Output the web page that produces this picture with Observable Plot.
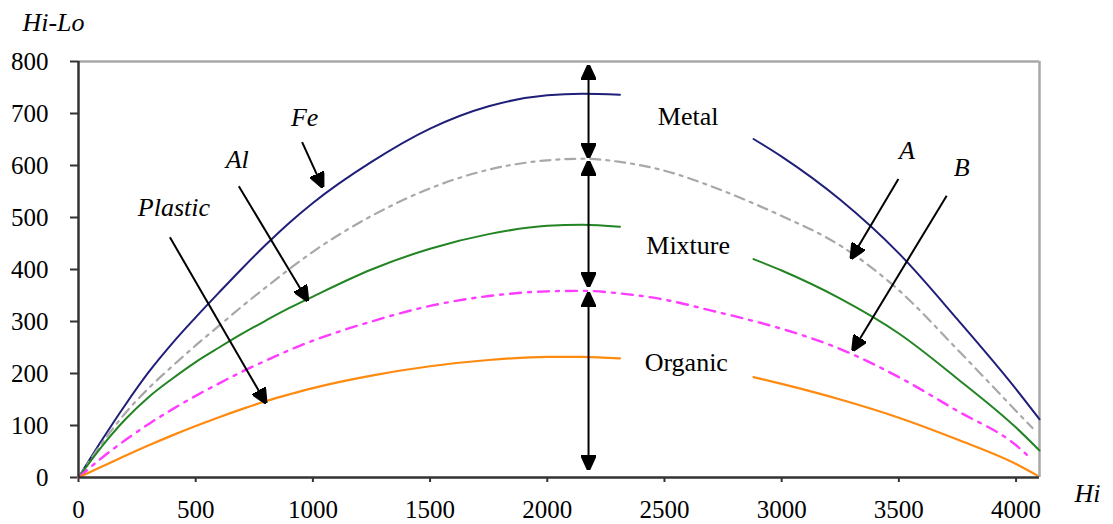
<!DOCTYPE html>
<html><head><meta charset="utf-8">
<script src="https://cdn.jsdelivr.net/npm/d3@7"></script>
<script src="https://cdn.jsdelivr.net/npm/@observablehq/plot@0.6"></script>
<style>body{margin:0;background:#fff} svg{display:block}</style>
</head><body><div id="chart"></div>
<script>
// Hi values (x) shared by all curves; null = gap in the solid curves
const hi      = [0, 100, 200, 300, 400, 500, 600, 700, 800, 900, 1000, 1250, 1500, 1750, 2000, 2150, 2310, 2500, 2700, 2880, 3000, 3250, 3500, 3750, 4000];
const fe      = [0, 72, 140, 203, 258, 308, 356, 403, 448, 490, 528, 607, 671, 714, 735, 738, 736, null, null, 651, 617, 534, 431, 304, 170];
const seriesA = [0, 66, 124, 172, 214, 254, 292, 330, 366, 401, 434, 503, 556, 592, 610, 613, 607, 590, 560, 527, 503, 446, 360, 246, 128];
const al      = [0, 60, 112, 155, 190, 222, 250, 277, 302, 326, 348, 400, 440, 468, 484, 486, 482, null, null, 420, 398, 344, 277, 190, 96];
const seriesB = [0, 38, 72, 103, 131, 157, 181, 204, 225, 245, 263, 300, 330, 349, 358, 359, 354, 342, 321, 301, 286, 247, 193, 128, 62];
const plastic = [0, 21, 42, 62, 81, 99, 116, 132, 147, 160, 172, 196, 214, 226, 232, 232, 229, null, null, 193, 180, 150, 115, 73, 26];
// last point of each curve [Hi, Hi-Lo]
const feEnd = [4100, 112];
const aEnd = [4070, 95];
const alEnd = [4100, 52];
const bEnd = [4060, 38];
const plasticEnd = [4090, 4];

const xTicks = [0, 500, 1000, 1500, 2000, 2500, 3000, 3500, 4000];
const yTicks = [0, 100, 200, 300, 400, 500, 600, 700, 800];

// annotations (data units)
const arrowNames = ["Fe", "Al", "Plastic", "A", "B"];
const arrowFrom  = [[954, 645], [684, 560], [390, 462], [3498, 574], [3704, 542]];
const arrowTo    = [[1040, 560], [975, 342], [797, 145], [3299, 423], [3306, 246]];
const nameAt     = [[965, 692], [677, 612], [407, 519], [3534, 628], [3768, 596]];
const zoneNames  = ["Metal", "Mixture", "Organic"];
const zoneAt     = [[2601, 694], [2601, 446], [2593, 221]];
const spanHi     = 2176;
const spans      = [[790, 617], [606, 369], [353, 17]];

const SERIF = "Liberation Serif, DejaVu Serif, Tinos, serif";

const curves = [
  {name: "Fe", values: fe, end: feEnd, stroke: "#1f1f7a", dash: null, w: 2},
  {name: "A", values: seriesA, end: aEnd, stroke: "#a8a8a8", dash: "10,6,3,6", w: 2.2},
  {name: "Al", values: al, end: alEnd, stroke: "#238423", dash: null, w: 2},
  {name: "B", values: seriesB, end: bEnd, stroke: "#ff3cff", dash: "11,7,3,7", w: 2.4},
  {name: "Plastic", values: plastic, end: plasticEnd, stroke: "#ff8a10", dash: null, w: 2.2}
];

function rowsFor(c) {
  const r = hi.map((x, i) => ({hi: x, v: c.values[i]}));
  r.push({hi: c.end[0], v: c.end[1]});
  return r;
}

function filledHead(color, context) {
  const doc = (context && context.document) || document;
  const m = doc.createElementNS("http://www.w3.org/2000/svg", "marker");
  m.setAttribute("viewBox", "-5 -5 10 10");
  m.setAttribute("markerWidth", "7.5");
  m.setAttribute("markerHeight", "7.5");
  m.setAttribute("refX", "4");
  m.setAttribute("orient", "auto-start-reverse");
  m.setAttribute("fill", color);
  const p = doc.createElementNS("http://www.w3.org/2000/svg", "path");
  p.setAttribute("d", "M-5,-4.6L5,0L-5,4.6Z");
  m.appendChild(p);
  return m;
}

const arrows = arrowNames.map((n, i) => ({n, x1: arrowFrom[i][0], y1: arrowFrom[i][1], x2: arrowTo[i][0], y2: arrowTo[i][1], lx: nameAt[i][0], ly: nameAt[i][1]}));
const zones = zoneNames.map((n, i) => ({n, x: zoneAt[i][0], y: zoneAt[i][1]}));
const spanRows = spans.map(s => ({x: spanHi, y1: s[0], y2: s[1]}));

function build(head) {
  return Plot.plot({
    width: 1113, height: 524,
    marginLeft: 78, marginTop: 61, marginRight: 74, marginBottom: 47,
    style: {fontFamily: SERIF, fontSize: "25px", color: "#000", background: "#fff"},
    x: {domain: [0, 4100]},
    y: {domain: [0, 800]},
    marks: [
      Plot.axisX({ticks: xTicks, tickFormat: d3.format("d"), tickSize: 5, tickPadding: 18, fontSize: 25, fontFamily: SERIF, label: null, strokeWidth: 2, stroke: "#333"}),
      Plot.axisY({ticks: yTicks, tickFormat: d3.format("d"), tickSize: 8, tickPadding: 22, fontSize: 25, fontFamily: SERIF, label: null, strokeWidth: 2, stroke: "#333"}),
      Plot.ruleY([800], {stroke: "#a8a8a8", strokeWidth: 2.5}),
      Plot.ruleX([4100], {stroke: "#a8a8a8", strokeWidth: 2.5}),
      ...curves.map(c => Plot.line(rowsFor(c), {x: "hi", y: "v", stroke: c.stroke, strokeWidth: c.w, strokeDasharray: c.dash, curve: "monotone-x"})),
      Plot.ruleX([0], {stroke: "#333", strokeWidth: 2.5}),
      Plot.ruleY([0], {stroke: "#333", strokeWidth: 2.5}),
      Plot.link(arrows, {x1: "x1", y1: "y1", x2: "x2", y2: "y2", stroke: "#000", strokeWidth: 2, markerEnd: head}),
      Plot.link(spanRows, {x1: "x", x2: "x", y1: "y1", y2: "y2", stroke: "#000", strokeWidth: 2, markerStart: head, markerEnd: head}),
      Plot.text(arrows, {x: "lx", y: "ly", text: "n", fontStyle: "italic", fontSize: 26, fontFamily: SERIF}),
      Plot.text(zones, {x: "x", y: "y", text: "n", fontSize: 26, fontFamily: SERIF}),
      Plot.text(["Hi-Lo"], {frameAnchor: "top-left", textAnchor: "middle", lineAnchor: "middle", dx: -25, dy: -39, text: d => d, fontStyle: "italic", fontSize: 26, fontFamily: SERIF}),
      Plot.text(["Hi"], {frameAnchor: "bottom-right", textAnchor: "middle", lineAnchor: "middle", dx: 48, dy: 16, text: d => d, fontStyle: "italic", fontSize: 26, fontFamily: SERIF})
    ]
  });
}

let chart;
try { chart = build(filledHead); } catch (e) { chart = build("arrow"); }
document.getElementById("chart").appendChild(chart);
</script>
</body></html>
